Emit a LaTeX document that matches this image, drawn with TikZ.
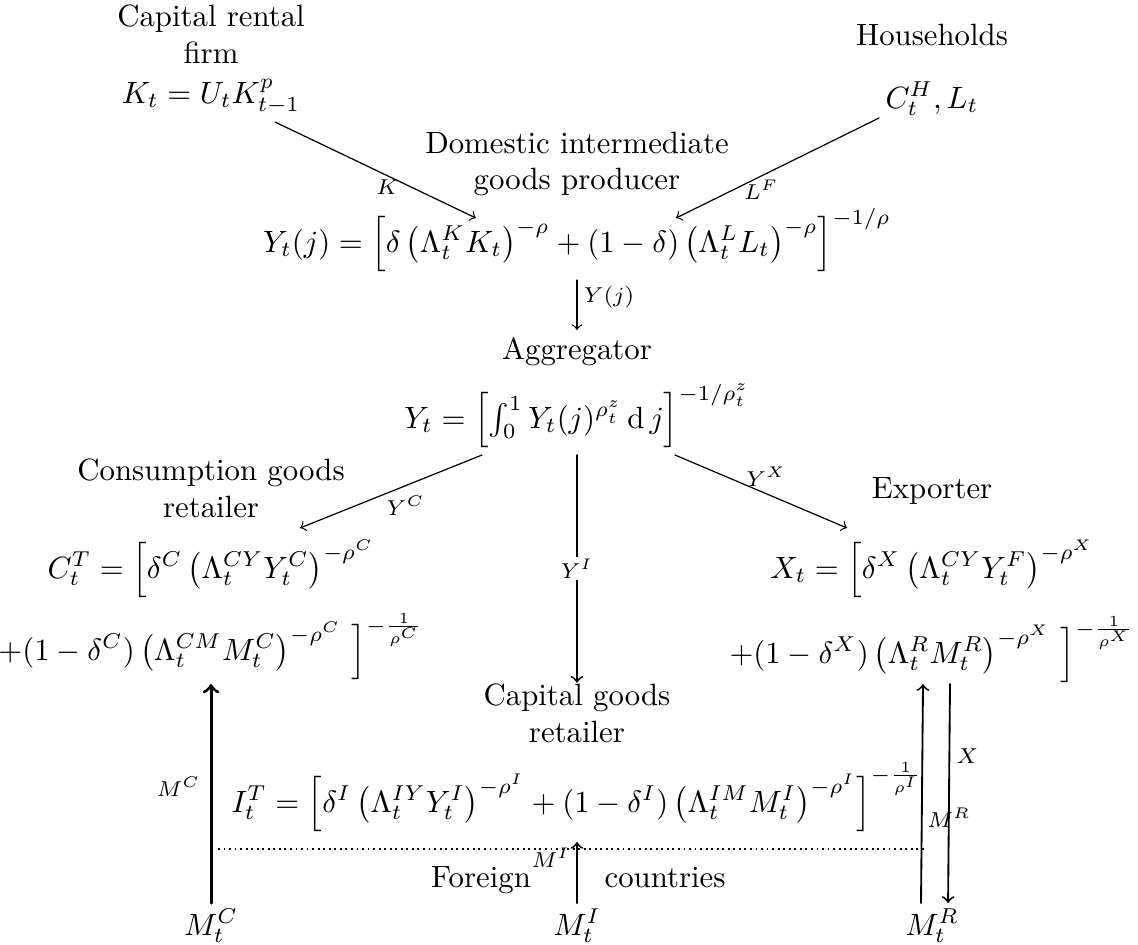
\documentclass[tikz,border=0pt]{standalone}
\usepackage{amsmath}

\begin{document}
\begin{tikzpicture}[line cap=round,line join=round,>=to,
  txt/.style={inner sep=0pt,align=center},
  eq/.style={inner sep=0pt,anchor=base},
  lbl/.style={font=\scriptsize,inner sep=2pt},
  flow/.style={->,line width=0.4pt}]

\useasboundingbox (0,0.057) rectangle (12.99,-10.730);

% -----------------------
% Columns
% -----------------------
\def\xL{2.409}
\def\xM{6.586}
\def\xR{10.639}

% -----------------------
% Top row
% -----------------------
\node[txt,anchor=south] (rent) at (\xL,-0.676) {Capital rental\\firm};
\node[eq] (kform) at (\xL,-1.119) {$K_t = U_t K^p_{t-1}$};

\node[eq] (hh) at (\xR,-0.457) {Households};
\node[eq] (hform) at (\xR,-1.176) {$C^H_t, L_t$};

% Domestic intermediate goods producer
\node[txt,anchor=south] (dom) at (\xM,-2.191) {Domestic intermediate\\goods producer};
\node[eq] (yjform) at (\xM,-2.820)
  {$Y_t(j) = \left[\delta\left(\Lambda^K_t K_t\right)^{-\rho} + (1-\delta)\left(\Lambda^L_t L_t\right)^{-\rho}\right]^{-1/\rho}$};

% Aggregator
\node[eq] (agg) at (\xM,-4.052) {Aggregator};
\node[eq] (ytform) at (\xM,-4.829)
  {$Y_t = \left[\int_0^1 Y_t(j)^{\rho^z_t}\,\mathrm{d}\,j\right]^{-1/\rho^z_t}$};

% -----------------------
% Retailers and exporter
% -----------------------
\node[txt,anchor=south] (cons) at (\xL,-5.856) {Consumption goods\\retailer};
\node[eq] (cform1) at (\xL,-6.541)
  {$C^T_t = \Big[\delta^C\left(\Lambda^{CY}_t Y^C_t\right)^{-\rho^C}$};
\node[eq] (cform2) at (\xL,-7.477)
  {$+(1-\delta^C)\left(\Lambda^{CM}_t M^C_t\right)^{-\rho^C}\,\Big]^{-\frac{1}{\rho^C}}$};

\node[eq] (exp) at (\xR,-5.628) {Exporter};
\node[eq] (xform1) at (\xR,-6.541)
  {$X_t = \Big[\delta^X\left(\Lambda^{CY}_t Y^F_t\right)^{-\rho^X}$};
\node[eq] (xform2) at (\xR,-7.511)
  {$+(1-\delta^X)\left(\Lambda^R_t M^R_t\right)^{-\rho^X}\,\Big]^{-\frac{1}{\rho^X}}$};

\node[txt,anchor=south] (capg) at (\xM,-8.424) {Capital goods\\retailer};
\node[eq] (iform) at (\xM,-9.212)
  {$I^T_t = \left[\delta^I\left(\Lambda^{IY}_t Y^I_t\right)^{-\rho^I} + (1-\delta^I)\left(\Lambda^{IM}_t M^I_t\right)^{-\rho^I}\right]^{-\frac{1}{\rho^I}}$};

% -----------------------
% Foreign countries
% -----------------------
\draw[line width=0.6pt,dash pattern=on 0.6pt off 1.2pt,line cap=butt] (2.488,-9.634) -- (10.559,-9.634);
\node[eq] (foreign) at (5.491,-10.068) {Foreign};
\node[eq] (countries) at (7.591,-10.068) {countries};

\node[eq] (mc) at (\xL,-10.616) {$M^C_t$};
\node[eq] (mi) at (\xM,-10.616) {$M^I_t$};
\node[eq] (mr) at (\xR,-10.616) {$M^R_t$};

% -----------------------
% Flows
% -----------------------
\draw[flow] ([xshift=0.731cm,yshift=-0.217cm]kform.base) -- ([xshift=-1.153cm,yshift=0.388cm]yjform.base)
  node[lbl,pos=0.56,below,inner sep=1pt] {$K$};
\draw[flow] ([xshift=-0.605cm,yshift=-0.114cm]hform.base) -- ([xshift=1.130cm,yshift=0.388cm]yjform.base)
  node[lbl,pos=0.58,below,inner sep=1pt] {$L^F$};
\draw[flow] ([yshift=-0.320cm]yjform.base) -- ([yshift=0.342cm]agg.base)
  node[lbl,pos=0.34,right] {$Y(j)$};

\draw[flow] ([xshift=-1.084cm,yshift=-0.308cm]ytform.base) -- ([xshift=1.016cm,yshift=-0.114cm]cons.south)
  node[lbl,pos=0.42,below,inner sep=3pt] {$Y^C$};
\draw[flow] ([xshift=1.119cm,yshift=-0.308cm]ytform.base) -- ([xshift=-0.970cm,yshift=-0.342cm]exp.base)
  node[lbl,pos=0.53,above] {$Y^X$};
\draw[flow,line width=0.6pt] ([yshift=-0.308cm]ytform.base) -- (capg.north)
  node[lbl,midway,fill=white,inner sep=0.5pt] {$Y^I$};

\draw[flow,line width=1pt] ([yshift=0.365cm]mc.base) -- ([yshift=-0.274cm]cform2.base)
  node[lbl,pos=0.53,left,inner sep=3pt] {$M^C$};
\draw[flow,line width=0.6pt] ([yshift=0.365cm]mi.base) -- ([yshift=-0.342cm]iform.base -| mi.base)
  node[lbl,pos=0.74,left] {$M^I$};
\draw[flow,line width=0.6pt] ([xshift=-0.126cm,yshift=0.365cm]mr.base) -- ([xshift=-0.103cm,yshift=-0.240cm]xform2.base)
  node[lbl,pos=0.39,right,inner sep=1.5pt] {$M^R$};
\draw[flow,line width=0.6pt] ([xshift=0.205cm,yshift=-0.240cm]xform2.base) -- ([xshift=0.183cm,yshift=0.365cm]mr.base)
  node[lbl,pos=0.33,right] {$X$};

\end{tikzpicture}
\end{document}
